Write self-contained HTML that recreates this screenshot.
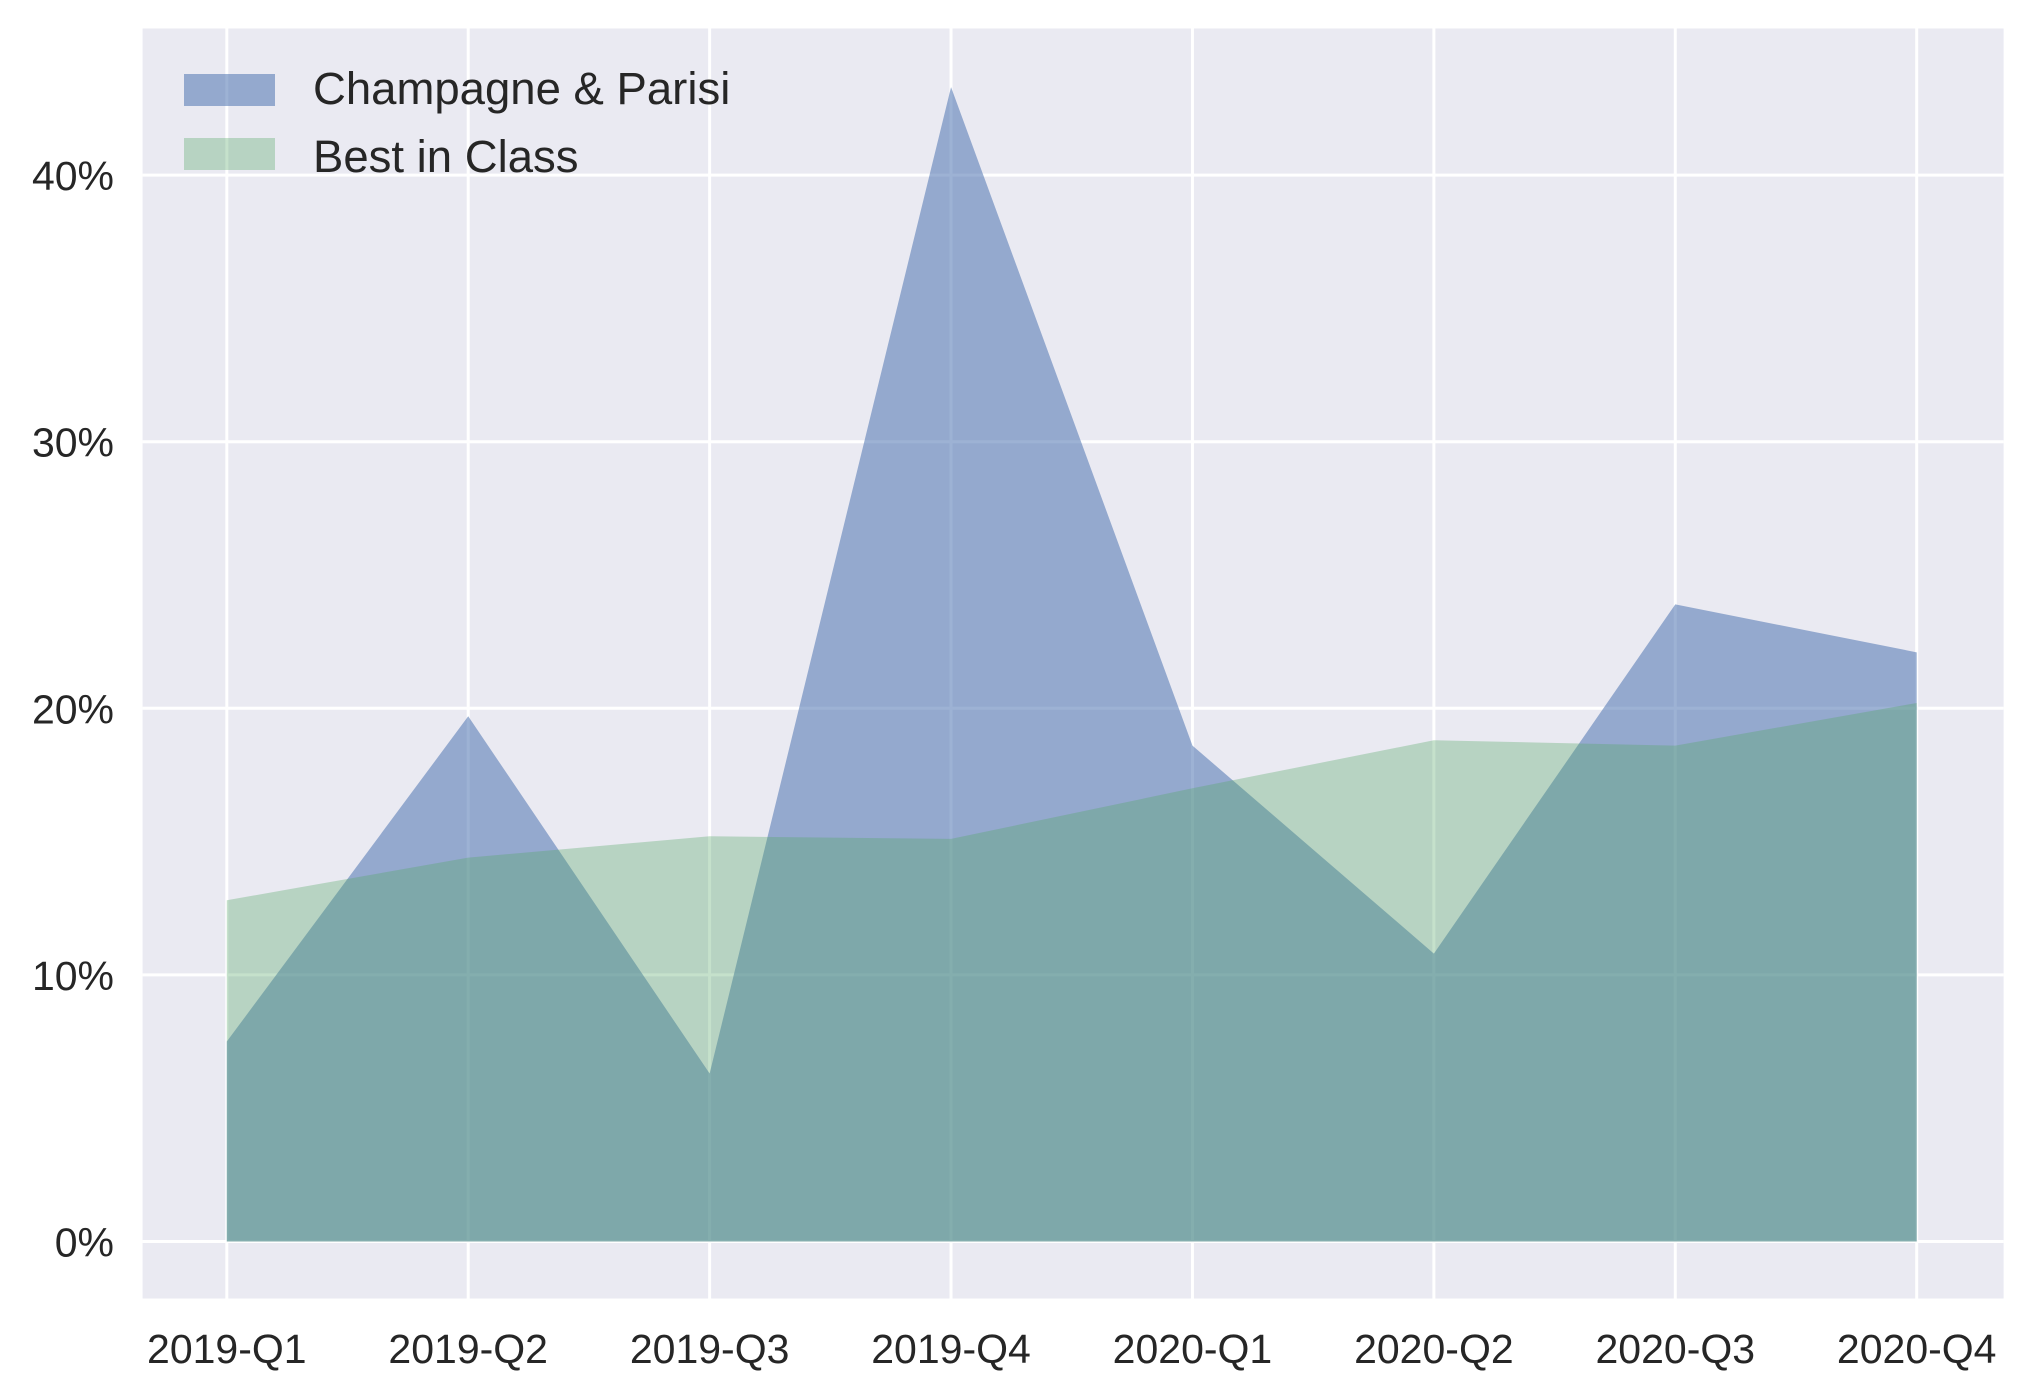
<!DOCTYPE html>
<html><head><meta charset="utf-8"><style>
html,body{margin:0;padding:0;background:#fff;}
svg{display:block;font-family:"Liberation Sans",Arial,sans-serif;}
</style></head><body>
<svg id="chart" width="2032" height="1397" viewBox="0 0 2032 1397">
<rect x="142.6" y="28.5" width="1861" height="1270" fill="#eaeaf2"/>
<g id="grid"></g>
<g id="areas"></g>
<g id="xt"></g>
<g id="yt"></g>
<g>
<g>
<rect x="184" y="74" width="91" height="32" fill="#4c72b0" fill-opacity="0.55"/>
<text x="313" y="104" font-size="45.5" fill="#262626">Champagne &amp; Parisi</text>
</g>
<g>
<rect x="184" y="138" width="91" height="32" fill="#55a868" fill-opacity="0.34"/>
<text x="313" y="172" font-size="45.5" fill="#262626">Best in Class</text>
</g>
</g>
</svg>
<script>
const categories=["2019-Q1","2019-Q2","2019-Q3","2019-Q4","2020-Q1","2020-Q2","2020-Q3","2020-Q4"];
const champagne=[7.5,19.7,6.3,43.3,18.6,10.8,23.9,22.1];
const bestInClass=[12.8,14.4,15.2,15.1,17.0,18.8,18.6,20.2];
const yTicks=[0,10,20,30,40];
const yTickLabels=["0%","10%","20%","30%","40%"];
const NS="http://www.w3.org/2000/svg";
const x0=226.8,x1=1916.7,y0=1241.5,pxPer=26.66;
function xs(i){return x0+(x1-x0)*i/(categories.length-1);}
function ys(v){return y0-v*pxPer;}
function mk(t,a,p){const e=document.createElementNS(NS,t);for(const k in a)e.setAttribute(k,a[k]);p.appendChild(e);return e;}
const grid=document.getElementById('grid'),areas=document.getElementById('areas'),xt=document.getElementById('xt'),yt=document.getElementById('yt');
yTicks.forEach((v,i)=>{
 const l=mk('line',{x1:142.6,x2:2003.5,y1:ys(v),y2:ys(v),stroke:'#fff','stroke-width':3},grid);
 
 
 const t=mk('text',{x:114,y:ys(v)+15,'text-anchor':'end','font-size':41,fill:'#262626'},yt);
 t.textContent=yTickLabels[i];
 
 
});
categories.forEach((c,i)=>{
 const l=mk('line',{x1:xs(i),x2:xs(i),y1:28.5,y2:1298.5,stroke:'#fff','stroke-width':3},grid);
 
 
 const t=mk('text',{x:xs(i),y:1363,'text-anchor':'middle','font-size':41,fill:'#262626'},xt);
 t.textContent=c;
 
 
});
function area(vals,color,op,name){
 let d='M'+xs(0)+','+ys(0);
 vals.forEach((v,i)=>{d+=' L'+xs(i)+','+ys(v);});
 d+=' L'+xs(vals.length-1)+','+ys(0)+' Z';
 const p=mk('path',{d:d,fill:color,'fill-opacity':op},areas);
 
 
}
area(champagne,'#4c72b0',0.55,'area-champagne-parisi');
area(bestInClass,'#55a868',0.34,'area-best-in-class');
</script>
</body></html>
